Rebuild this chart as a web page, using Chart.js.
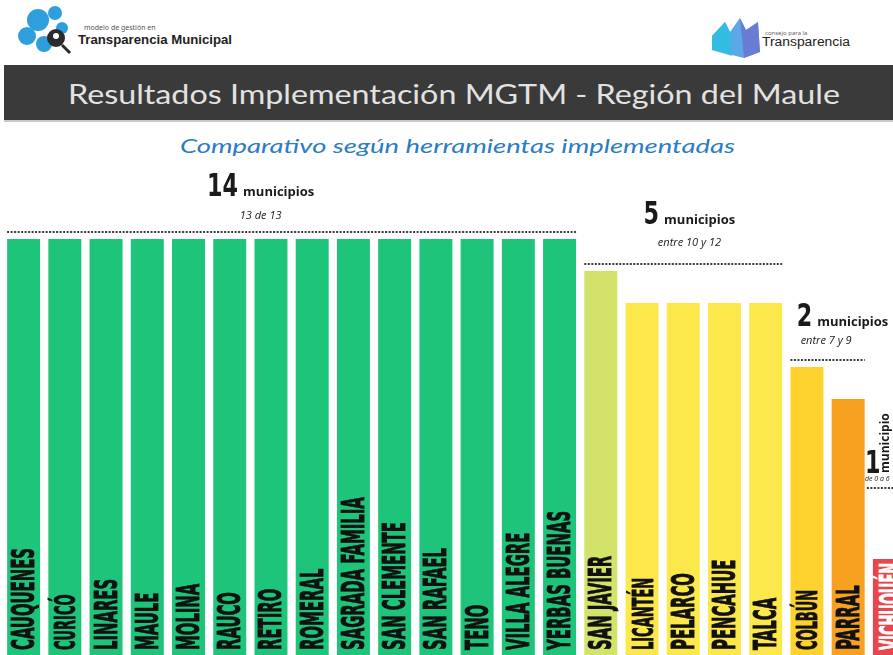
<!DOCTYPE html>
<html>
<head>
<meta charset="utf-8">
<script src="https://cdn.jsdelivr.net/npm/chart.js@4/dist/chart.umd.min.js"></script>
<style>
  html, body { margin:0; padding:0; background:#fff; width:893px; height:655px; overflow:hidden; }
  #wrap { position:relative; width:893px; height:655px; overflow:hidden; }
  #hdr { position:absolute; left:0; top:0; }
  #c { position:absolute; left:0; top:0; }
</style>
</head>
<body>
<div id="wrap">
<svg id="hdr" width="893" height="170" xmlns="http://www.w3.org/2000/svg">
  <!-- left logo -->
  <g fill="#2e9fdc">
    <circle cx="38" cy="20" r="11"/>
    <circle cx="55" cy="13" r="7"/>
    <circle cx="27" cy="36" r="9"/>
    <circle cx="44" cy="44" r="8"/>
    <circle cx="62" cy="28" r="6"/>
  </g>
  <circle cx="56" cy="38" r="9" fill="#2b2b2b"/>
  <circle cx="56" cy="36" r="3" fill="#ffffff"/>
  <line x1="62" y1="45" x2="70" y2="53" stroke="#2b2b2b" stroke-width="3"/>
  <text x="84" y="30" font-family="Noto Sans, sans-serif" font-size="7" fill="#555">modelo de gestión en</text>
  <text x="78" y="44" font-family="Liberation Sans, Arial, sans-serif" font-size="13" font-weight="bold" fill="#222" textLength="154" lengthAdjust="spacingAndGlyphs">Transparencia Municipal</text>
  <!-- right logo -->
  <polygon points="712,36 725,22 730,32 740,18 746,30 758,22 760,52 744,58 712,50" fill="#5aa9e6"/>
  <polygon points="740,18 746,30 758,22 760,52 744,58" fill="#6b6fd1" opacity="0.8"/>
  <polygon points="712,36 725,22 730,32 732,56 712,50" fill="#29c0e0" opacity="0.8"/>
  <text x="765" y="35" font-family="Noto Sans, sans-serif" font-size="6" fill="#666">consejo para la</text>
  <text x="762" y="46" font-family="Liberation Sans, Arial, sans-serif" font-size="12" fill="#222" textLength="88" lengthAdjust="spacingAndGlyphs">Transparencia</text>
  <!-- banner -->
  <rect x="4" y="65" width="889" height="55" fill="#3a3a3a"/>
  <rect x="4" y="120" width="889" height="2" fill="#c8c8c8"/>
  <text x="68" y="104" font-family="Lato, Open Sans, sans-serif" font-size="27" fill="#e2e2e2" textLength="772" lengthAdjust="spacingAndGlyphs">Resultados Implementación MGTM - Región del Maule</text>
  <text x="180" y="153" font-family="Lato, Open Sans, sans-serif" font-style="italic" font-size="19" fill="#2a7cc4" textLength="555" lengthAdjust="spacingAndGlyphs">Comparativo según herramientas implementadas</text>
</svg>
<canvas id="c" width="910" height="655"></canvas>
</div>
<script>
// ---- data ----
const categories = ['CAUQUENES','CURICÓ','LINARES','MAULE','MOLINA','RAUCO','RETIRO','ROMERAL','SAGRADA FAMILIA','SAN CLEMENTE','SAN RAFAEL','TENO','VILLA ALEGRE','YERBAS BUENAS','SAN JAVIER','LICANTÉN','PELARCO','PENCAHUE','TALCA','COLBÚN','PARRAL','VICHUQUÉN'];
const values = [13,13,13,13,13,13,13,13,13,13,13,13,13,13,12,11,11,11,11,9,8,3];
const groupCount = ['14','5','2','1'];
const groupWord = ['municipios','municipios','municipios','municipio'];
const groupRange = ['13 de 13','entre 10 y 12','entre 7 y 9','de 0 a 6'];
const groupFirst = [0,14,19,21];
const groupLast = [13,18,20,21];
const groupLevel = [13,12,9,5];

// ---- styles ----
const GREEN = '#1fc47b';
const barColors = values.map((v,i) => {
  if (i < 14) return GREEN;
  if (i === 14) return '#d3e36a';
  if (i < 19) return '#fde84c';
  if (i === 19) return '#fdd22e';
  if (i === 20) return '#f8a020';
  return '#e8464f';
});
const labelColors = categories.map((c,i) => i === 21 ? '#ffffff' : '#111111');

const NARROW = '"Liberation Sans Narrow","Arial Narrow","DejaVu Sans Condensed","Liberation Sans",sans-serif';
const WORD = 'bold 13px "Open Sans", sans-serif';

const textPlugin = {
  id: 'textPlugin',
  afterDatasetsDraw(chart) {
    const ctx = chart.ctx;
    const meta = chart.getDatasetMeta(0);
    const ys = chart.scales.y;
    const bottom = chart.chartArea.bottom;
    const pitch = meta.data[1].x - meta.data[0].x;
    const xAt = (fi) => meta.data[0].x + fi * pitch;

    // labels inside bars
    ctx.save();
    ctx.font = 'bold 32px ' + NARROW;
    const k = 102 / ctx.measureText('CAUQUENES').width;
    const kn = 31 / ctx.measureText('14').width;
    ctx.restore();
    meta.data.forEach((bar, i) => {
      const left = bar.x - bar.width / 2;
      const lab = categories[i];
      const accented = /[ÁÉÍÓÚ]/.test(lab);
      ctx.save();
      ctx.font = 'bold ' + (accented ? 28 : 32) + 'px ' + NARROW;
      ctx.fillStyle = labelColors[i];
      ctx.strokeStyle = labelColors[i];
      ctx.lineWidth = 0.9;
      ctx.textBaseline = 'alphabetic';
      ctx.textAlign = 'left';
      ctx.translate(left + 27, bottom - 5);
      ctx.rotate(-Math.PI / 2);
      ctx.scale(k, 1);
      ctx.fillText(lab, 0, 0);
      ctx.strokeText(lab, 0, 0);
      ctx.restore();
    });

    const drawNum = (txt, x, y) => {
      ctx.save();
      ctx.font = 'bold 32px ' + NARROW;
      ctx.translate(x, y);
      ctx.scale(kn, 1);
      ctx.textAlign = 'left';
      ctx.fillText(txt, 0, 0);
      ctx.restore();
    };
    const numW = (txt) => {
      ctx.save();
      ctx.font = 'bold 32px ' + NARROW;
      const w = ctx.measureText(txt).width * kn;
      ctx.restore();
      return w;
    };

    // group annotations
    const lay = [
      {cx: 5.75, align: 'center', big: 36, sub: 13},
      {cx: 16.15, align: 'center', big: 40, sub: 18},
      {cx: 18.75, align: 'left', big: 34, sub: 16},
      {rot: true}
    ];
    for (let g = 0; g < 4; g++) {
      const l = meta.data[groupFirst[g]].x - meta.data[groupFirst[g]].width / 2;
      const r = meta.data[groupLast[g]].x + meta.data[groupLast[g]].width / 2;
      const ly = ys.getPixelForValue(groupLevel[g]) - 7;
      ctx.save();
      ctx.strokeStyle = '#3a3a3a';
      ctx.lineWidth = 2;
      ctx.setLineDash([2, 1.5]);
      ctx.beginPath();
      const lx0 = lay[g].rot ? l - 6 : l;
      ctx.moveTo(lx0, ly);
      ctx.lineTo(r, ly);
      ctx.stroke();
      ctx.restore();

      ctx.save();
      ctx.fillStyle = '#1a1a1a';
      ctx.textBaseline = 'alphabetic';
      if (!lay[g].rot) {
        const L = lay[g];
        const wBig = numW(groupCount[g]);
        ctx.font = WORD;
        const wWord = ctx.measureText(groupWord[g]).width;
        const total = wBig + 5 + wWord;
        let x0 = L.align === 'center' ? xAt(L.cx) - total / 2 : xAt(L.cx);
        drawNum(groupCount[g], x0, ly - L.big);
        ctx.textAlign = 'left';
        ctx.font = WORD;
        ctx.fillText(groupWord[g], x0 + wBig + 5, ly - L.big);
        ctx.font = 'italic 11px "Open Sans", sans-serif';
        if (L.align === 'center') {
          ctx.textAlign = 'center';
          ctx.fillText(groupRange[g], xAt(L.cx), ly - L.sub);
        } else {
          ctx.fillText(groupRange[g], x0 + 4, ly - L.sub);
        }
      } else {
        const x0 = l - 8;
        drawNum(groupCount[g], x0, ly - 15);
        ctx.save();
        ctx.font = 'bold 12px "Open Sans", sans-serif';
        ctx.textAlign = 'left';
        ctx.translate(x0 + 24, ly - 15);
        ctx.rotate(-Math.PI / 2);
        ctx.fillText(groupWord[g], 0, 0);
        ctx.restore();
        ctx.font = 'italic 7px "Open Sans", sans-serif';
        ctx.textAlign = 'left';
        ctx.fillText(groupRange[g], x0, ly - 7);
      }
      ctx.restore();
    }
  }
};

new Chart(document.getElementById('c').getContext('2d'), {
  type: 'bar',
  data: {
    labels: categories,
    datasets: [{
      data: values,
      backgroundColor: barColors,
      borderWidth: 0,
      barPercentage: 0.8,
      categoryPercentage: 1.0
    }]
  },
  options: {
    responsive: false,
    animation: false,
    layout: { padding: { top: 175, left: 3, right: 0, bottom: 0 } },
    plugins: { legend: { display: false }, tooltip: { enabled: false }, title: { display: false } },
    scales: {
      x: { display: false },
      y: { display: false, min: 0, max: 15 }
    }
  },
  plugins: [textPlugin]
});
</script>
</body>
</html>
